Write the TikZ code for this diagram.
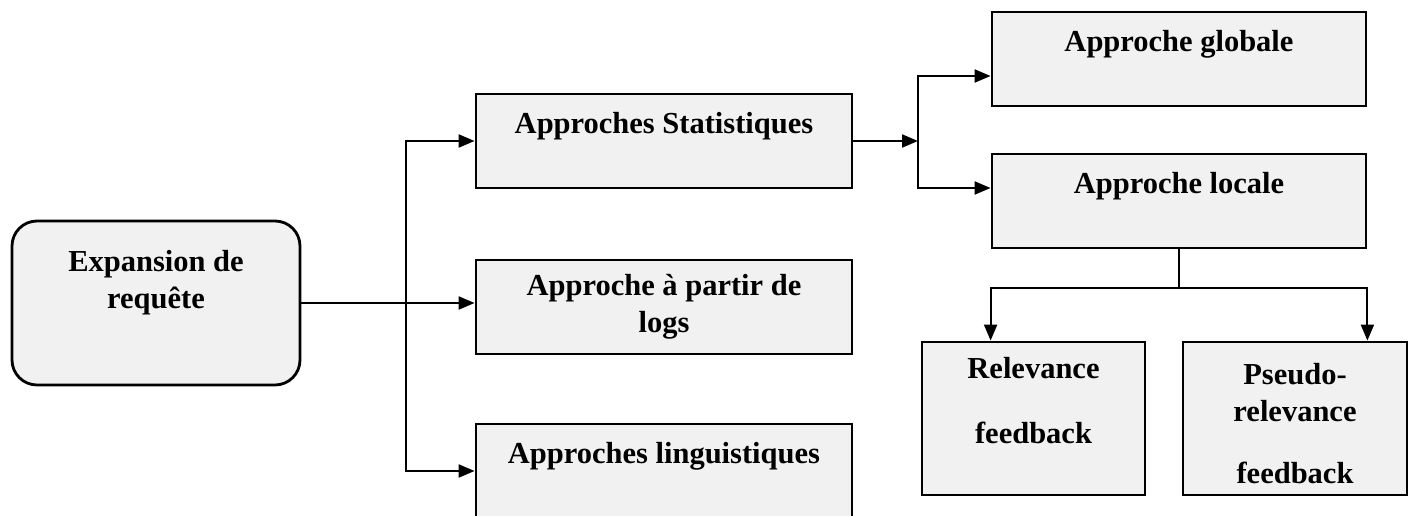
\documentclass[tikz,border=0pt]{standalone}
\usepackage{fontspec}
\setmainfont{Liberation Serif}
\usepackage{tikz}
\usetikzlibrary{arrows.meta}
\definecolor{boxgray}{HTML}{F1F1F1}

\begin{document}
\begin{tikzpicture}[x = 1pt, y = -1pt,
  box/.style = {draw, line width = 2.8pt, fill = boxgray, inner sep = 0pt, align = center,
    font = \bfseries\fontsize{30.5}{37}\selectfont},
  wire/.style = {line width = 2.1pt},
  arr/.style = {line width = 2.1pt, -{Triangle[length = 16pt, width = 13pt]}}]
  \useasboundingbox (0, 0) rectangle (1413, 516);
  \node[box, rounded corners = 25pt, minimum width = 288pt, minimum height = 164pt] (exp) at (156, 303) {Expansion de\\requête\\\strut};
  \node[box, minimum width = 376pt, minimum height = 94pt] (stat) at (664, 141) {Approches Statistiques\\[-12pt]\strut};
  \node[box, minimum width = 376pt, minimum height = 94pt] (logs) at (664, 307) {Approche à partir de\\logs};
  \node[box, minimum width = 376pt, minimum height = 94pt] (ling) at (664, 471) {Approches linguistiques\\[-12pt]\strut};
  \node[box, minimum width = 374pt, minimum height = 94pt] (glob) at (1179, 59) {Approche globale\\[-12pt]\strut};
  \node[box, minimum width = 374pt, minimum height = 94pt] (loc) at (1179, 201) {Approche locale\\[-12pt]\strut};
  \node[box, minimum width = 223pt, minimum height = 153pt] (rel) at (1033.5, 418.5) {Relevance\\[28pt]feedback\\[-12pt]\strut};
  \node[box, minimum width = 224pt, minimum height = 153pt] (pseudo) at (1295, 418.5) {\strut\\[-32pt]Pseudo-\\relevance\\[25pt]feedback};
  \coordinate (j1) at (406, 303);
  \coordinate (j2) at (918, 141);
  \coordinate (j3) at (1179, 288);
  \draw[arr] (exp.east) -- (exp.east -| logs.west);
  \draw[arr] (j1) |- (stat.west);
  \draw[arr] (j1) |- (ling.west);
  \draw[arr] (stat.east) -- (j2);
  \draw[arr] (j2) |- ([yshift = -17pt]glob.west);
  \draw[arr] (j2) |- ([yshift = 13pt]loc.west);
  \draw[wire] (loc.south) -- (j3);
  \draw[arr] (j3) -| (rel.north -| loc.west);
  \draw[arr] (j3) -| (pseudo.north -| loc.east);
\end{tikzpicture}
\end{document}
